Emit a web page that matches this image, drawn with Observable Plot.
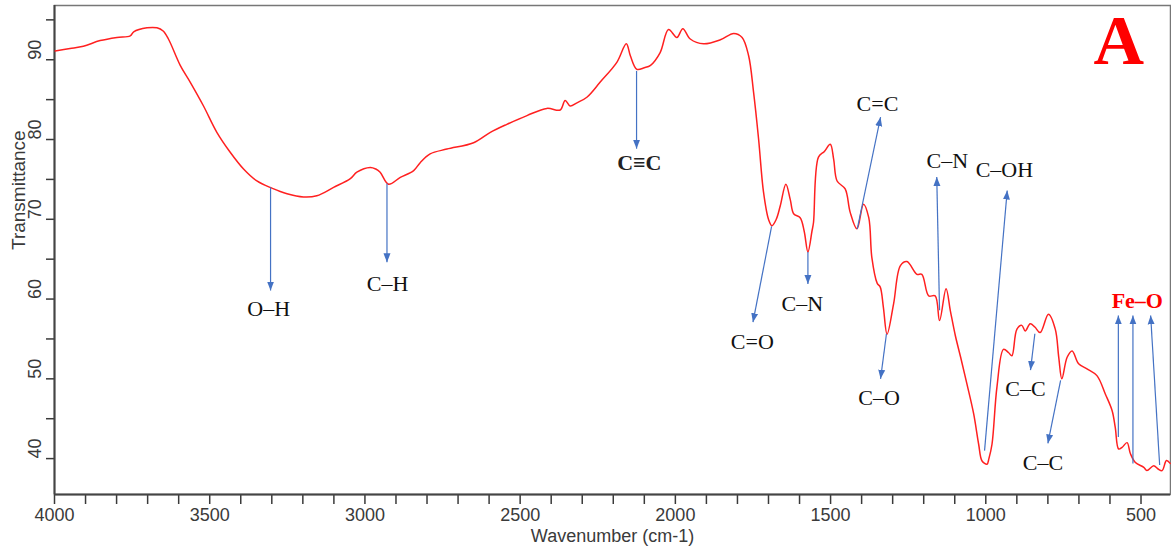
<!DOCTYPE html>
<html><head><meta charset="utf-8">
<script src="https://cdn.jsdelivr.net/npm/d3@7"></script>
<script src="https://cdn.jsdelivr.net/npm/@observablehq/plot@0.6"></script>
<style>body{margin:0;background:#fff;}</style>
</head><body><div id="chart"></div>
<script>
// FTIR spectrum
const wavenumber = [3998,3950,3907,3853,3799,3756,3745,3702,3670,3650,3633,3595,3563,3520,3477,3434,3391,3348,3300,3251,3198,3155,3101,3047,3026,2983,2965,2951,2924,2886,2843,2822,2790,2736,2650,2596,2543,2478,2414,2371,2355,2339,2317,2285,2242,2188,2158,2145,2124,2100,2080,2049,2022,1995,1976,1952,1909,1855,1812,1785,1764,1748,1732,1716,1700,1689,1675,1662,1644,1630,1619,1598,1585,1573,1560,1555,1539,1520,1501,1490,1479,1453,1437,1415,1394,1377,1367,1350,1340,1330,1318,1297,1275,1254,1222,1206,1184,1163,1149,1128,1114,1098,1081,1061,1039,1023,1012,996,990,980,964,943,927,916,900,884,873,857,842,825,798,776,765,755,738,722,701,674,642,615,593,583,572,561,545,534,518,491,481,459,445,432,418,406];
const transmittance = [91.1,91.4,91.7,92.4,92.8,93.0,93.5,94.0,94.0,93.6,92.6,89.3,87.2,84.2,80.9,78.4,76.3,74.8,73.9,73.2,72.8,72.95,74.0,75.1,75.9,76.5,76.3,75.9,74.4,75.25,76.1,77.1,78.2,78.8,79.6,80.9,81.9,83.0,83.9,83.7,84.9,84.2,84.6,85.3,87.2,89.7,92.0,90.5,88.8,89.0,89.3,90.9,93.8,92.8,93.9,92.6,92.0,92.5,93.3,92.8,90.5,85.9,80.1,73.4,70.0,69.2,70.0,71.7,74.4,72.5,70.7,70.2,68.5,65.9,68.5,69.6,77.8,78.5,79.4,77.5,74.8,73.8,70.9,68.8,71.9,70.2,65.2,62.0,61.5,59.0,55.6,59.4,64.2,64.7,63.1,63.1,60.4,60.4,57.3,61.3,58.5,55.4,52.7,49.4,45.6,41.8,39.7,39.3,40.0,41.8,49.0,53.7,53.3,52.9,56.2,56.7,56.0,56.9,56.5,55.8,58.1,56.2,52.7,50.0,52.7,53.5,51.9,51.25,50.4,48.1,46.0,43.9,41.2,41.4,42.0,40.6,39.5,38.9,38.5,39.1,38.7,38.5,39.75,39.4];

// axis ticks
const xMajorTicks = [4000,3500,3000,2500,2000,1500,1000,500];
const xMinorTicks = d3.range(500, 4001, 100);
const yMajorTicks = [40,50,60,70,80,90];
const yAllTicks = [40,45,50,55,60,65,70,75,80,85,90,95];

// band annotations (black labels)
const labelText = ["O–H","C–H","C=O","C–N","C=C","C–O","C–N","C–OH","C–C","C–C"];
const labelX = [3310,2927,1752,1591,1349,1344,1124,940,872,816];
const labelY = [58.7,61.95,54.6,59.4,84.5,47.6,77.35,76.2,48.7,39.45];
// bold labels
const boldText = ["C≡C"];
const boldX = [2116];
const boldY = [77.0];
const feText = ["Fe–O"];
const feX = [512];
const feY = [59.8];
const panelText = ["A"];
const panelX = [572];
const panelY = [89.5];

// arrows: from (x1,y1) to tip (x2,y2)
const arrowX1 = [3304,2929,2125,1690,1573,1414,1320,1149,1004,842,759,573,526,440];
const arrowY1 = [74.0,74.5,88.6,69.1,65.9,68.8,55.65,58.6,41.0,55.65,49.8,42.7,39.4,39.2];
const arrowX2 = [3304,2929,2125,1750,1573,1339,1339,1158,931,856,800,573,526,469];
const arrowY2 = [61.07,64.6,78.85,57.1,61.9,82.8,50.0,75.3,73.6,51.1,41.9,57.95,57.95,57.95];

const idx = n => d3.range(n);

function filledArrow(color, context) {
  const doc = (context && context.document) || document;
  const ns = "http://www.w3.org/2000/svg";
  const m = doc.createElementNS(ns, "marker");
  m.setAttribute("viewBox", "-9 -4 9 8");
  m.setAttribute("markerWidth", 9);
  m.setAttribute("markerHeight", 8);
  m.setAttribute("markerUnits", "userSpaceOnUse");
  m.setAttribute("orient", "auto");
  m.setAttribute("refX", 0);
  m.setAttribute("refY", 0);
  const p = doc.createElementNS(ns, "path");
  p.setAttribute("d", "M-9,-3.5L0,0L-9,3.5Z");
  p.setAttribute("fill", color);
  p.setAttribute("stroke", "none");
  m.appendChild(p);
  return m;
}

const serif = "Liberation Serif, Times New Roman, serif";

const chart = Plot.plot({
  width: 1171,
  height: 557,
  marginLeft: 54,
  marginRight: 1,
  marginTop: 5,
  marginBottom: 63,
  style: {fontFamily: "Liberation Sans, Arial, sans-serif", fontSize: "18px", color: "#3a3a3a", background: "white"},
  x: {domain: [4000, 405]},
  y: {domain: [35.5, 96.8]},
  marks: [
    Plot.frame({stroke: "#777", strokeWidth: 1.5}),
    Plot.axisX(xMinorTicks, {tickSize: 10, tickPadding: 4, strokeWidth: 1.5, tickFormat: d => xMajorTicks.includes(d) ? String(d) : "", label: null, fontSize: 18}),
    Plot.axisY(yAllTicks, {tickSize: 8, strokeWidth: 1.5, tickFormat: () => "", label: null}),
    Plot.text(yMajorTicks, {y: d => d, frameAnchor: "left", dx: -19, rotate: -90, text: d => String(d), fontSize: 18, fill: "#3a3a3a"}),
    Plot.ruleX([4000], {stroke: "#444", strokeWidth: 2}),
    Plot.ruleY([35.5], {stroke: "#444", strokeWidth: 2}),
    Plot.text(["Wavenumber (cm-1)"], {text: d => d, frameAnchor: "bottom", dy: 47, fontSize: 18, fill: "#3a3a3a"}),
    Plot.text(["Transmittance"], {text: d => d, frameAnchor: "left", dx: -36, rotate: -90, fontSize: 19, fill: "#3a3a3a"}),
    Plot.line(idx(wavenumber.length), {x: i => wavenumber[i], y: i => transmittance[i], stroke: "#ff2020", strokeWidth: 1.5, curve: "catmull-rom"}),
    Plot.link(idx(arrowX1.length), {x1: i => arrowX1[i], y1: i => arrowY1[i], x2: i => arrowX2[i], y2: i => arrowY2[i], stroke: "#4472C4", strokeWidth: 1.2, markerEnd: filledArrow}),
    Plot.text(idx(labelText.length), {x: i => labelX[i], y: i => labelY[i], text: i => labelText[i], fontFamily: serif, fontSize: 22, fill: "#111"}),
    Plot.text(idx(boldText.length), {x: i => boldX[i], y: i => boldY[i], text: i => boldText[i], fontFamily: serif, fontSize: 22, fontWeight: "bold", fill: "#222"}),
    Plot.text(idx(feText.length), {x: i => feX[i], y: i => feY[i], text: i => feText[i], fontFamily: serif, fontSize: 22, fontWeight: "bold", fill: "#ff0000"}),
    Plot.text(idx(panelText.length), {x: i => panelX[i], y: i => panelY[i], text: i => panelText[i], fontFamily: serif, fontSize: 70, fontWeight: "bold", fill: "#ff0000", lineAnchor: "bottom"})
  ]
});
document.getElementById("chart").appendChild(chart);
</script>
</body></html>
